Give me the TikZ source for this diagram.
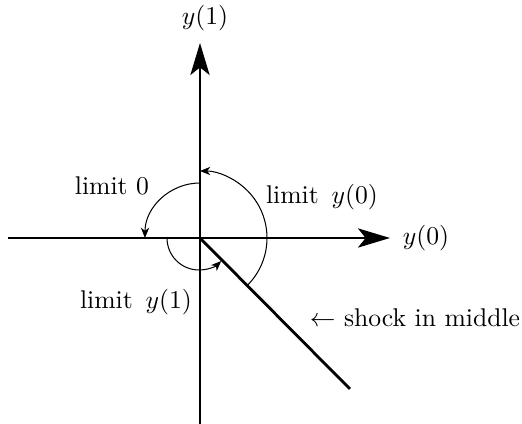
\documentclass[tikz,border=0pt]{standalone}
\usetikzlibrary{arrows.meta}
\begin{document}
\begin{tikzpicture}[x=0.39pt,y=0.39pt,
  axis/.style={line width=0.75pt},
  bigtip/.style={-{Stealth[length=12.5pt,width=7.5pt,inset=3pt]}},
  thickseg/.style={line width=1.1pt},
  arcline/.style={line width=0.4pt,-{Stealth[length=4pt,width=3.2pt,inset=1.2pt]}},
  lbl/.style={inner sep=0pt,font=\normalsize}]
\useasboundingbox (-200,-186) rectangle (322,238);
\coordinate (O) at (0,0);
\coordinate (L) at (-192,0);
\coordinate (R) at (190,0);
\coordinate (B) at (0,-186);
\coordinate (T) at (0,195);
\coordinate (S) at (0,65);
\coordinate (D) at (150,-151);
\draw[axis] (L) -- (O);
\draw[axis,bigtip] (O) -- (R);
\draw[axis] (B) -- (O);
\draw[axis,bigtip] (O) -- (T);
\draw[thickseg] (O) -- (S);
\draw[thickseg] (O) -- (D);
% arcs
\draw[arcline] (-45:67) arc[start angle=-45,end angle=90,radius=67];
\draw[arcline] (90:55) arc[start angle=90,end angle=180,radius=55];
\draw[arcline] (180:33) arc[start angle=180,end angle=314,radius=32];
% labels
\node[lbl] (ly1) at (5,220) {$y(1)$};
\node[lbl] (ly0) at (226,0) {$y(0)$};
\node[lbl] (l0) at (-88,52) {limit 0};
\node[lbl] (l0y) at (122,41) {limit\, $y(0)$};
\node[lbl] (l1y) at (-64,-64) {limit\, $y(1)$};
\node[lbl] (sh) at (215,-80) {$\leftarrow$ shock in middle};
\end{tikzpicture}
\end{document}
